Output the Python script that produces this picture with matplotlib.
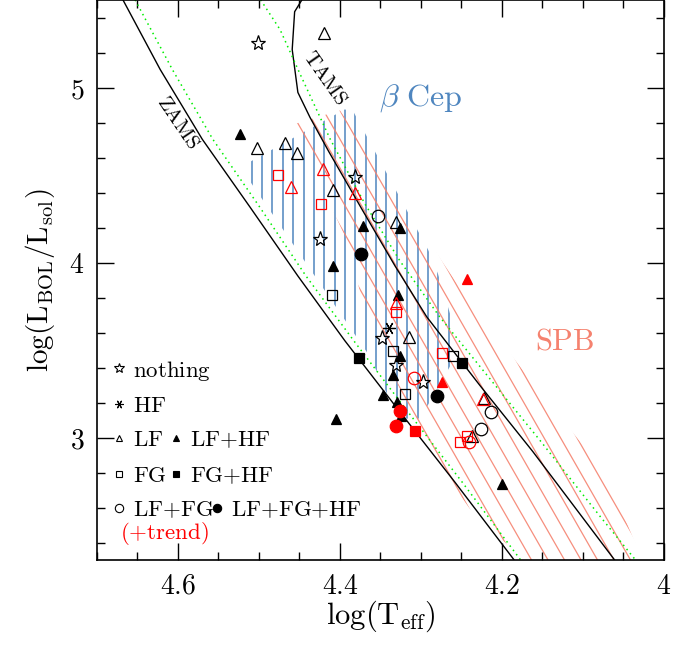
import numpy as np
import matplotlib
matplotlib.use("Agg")

import matplotlib.pyplot as plt
from matplotlib.patches import Polygon
from matplotlib.collections import LineCollection
from matplotlib.ticker import MultipleLocator, FuncFormatter

plt.rcParams['mathtext.fontset'] = 'cm'
plt.rcParams['font.family'] = ['DejaVu Serif']

# --- model lines (log Teff, log L) ---
zams_T = [4.668, 4.622, 4.570, 4.511, 4.452, 4.394, 4.332, 4.258, 4.182]
zams_L = [5.501, 5.103, 4.704, 4.316, 3.923, 3.553, 3.182, 2.744, 2.282]

zams_green_T = [4.653, 4.607, 4.557, 4.499, 4.442, 4.383, 4.322, 4.249, 4.174]
zams_green_L = [5.501, 5.103, 4.704, 4.316, 3.923, 3.553, 3.182, 2.744, 2.282]

tams_T = [4.447, 4.456, 4.459, 4.452, 4.437, 4.414, 4.373, 4.332, 4.293, 4.227, 4.162, 4.058]
tams_L = [5.501, 5.433, 5.217, 4.972, 4.829, 4.635, 4.305, 3.980, 3.690, 3.296, 2.920, 2.282]

tams_green_T = [4.498, 4.474, 4.449, 4.412, 4.369, 4.326, 4.277, 4.215, 4.153, 4.079, 4.027]
tams_green_L = [5.501, 5.331, 5.074, 4.704, 4.333, 4.009, 3.690, 3.336, 2.983, 2.550, 2.254]

# --- instability regions (polygon corners) ---
bcep_T = [4.512, 4.394, 4.383, 4.291, 4.279, 4.263, 4.263, 4.301, 4.328, 4.363, 4.512]
bcep_L = [4.573, 4.875, 4.858, 4.071, 3.935, 3.690, 3.416, 3.108, 3.108, 3.462, 4.470]

spb_T = [4.458, 4.400, 4.252, 4.172, 4.091, 4.052, 4.020, 4.157, 4.240, 4.289, 4.332, 4.375, 4.390]
spb_L = [4.789, 4.869, 3.855, 3.370, 2.903, 2.578, 2.225, 2.225, 2.595, 2.909, 3.336, 3.826, 4.111]

# --- stars, by detected variability ---
nothing_T = [4.501, 4.425, 4.381, 4.348, 4.331, 4.298]
nothing_L = [5.256, 4.134, 4.487, 3.570, 3.416, 3.319]

hf_T = [4.339]
hf_L = [3.627]

lf_T = [4.420, 4.502, 4.468, 4.453, 4.409, 4.331, 4.315, 4.222, 4.237]
lf_L = [5.313, 4.652, 4.681, 4.624, 4.413, 4.231, 3.575, 3.228, 3.006]
lf_trend_T = [4.421, 4.460, 4.381, 4.331, 4.223]
lf_trend_L = [4.533, 4.430, 4.396, 3.769, 3.222]

lfhf_T = [4.523, 4.372, 4.326, 4.409, 4.328, 4.326, 4.335, 4.347, 4.330, 4.325, 4.405, 4.200]
lfhf_L = [4.732, 4.208, 4.197, 3.980, 3.815, 3.467, 3.359, 3.245, 3.205, 3.125, 3.108, 2.732]
lfhf_trend_T = [4.243, 4.274]
lfhf_trend_L = [3.906, 3.319]

fg_T = [4.410, 4.335, 4.320, 4.260]
fg_L = [3.815, 3.496, 3.251, 3.467]
fg_trend_T = [4.477, 4.423, 4.331, 4.274, 4.243, 4.252]
fg_trend_L = [4.499, 4.333, 3.718, 3.484, 3.006, 2.977]

fghf_T = [4.377, 4.249]
fghf_L = [3.456, 3.427]
fghf_trend_T = [4.307]
fghf_trend_L = [3.040]

lffg_T = [4.353, 4.214, 4.226]
lffg_L = [4.265, 3.148, 3.046]
lffg_trend_T = [4.309, 4.241]
lffg_trend_L = [3.342, 2.977]

lffghf_T = [4.374, 4.280]
lffghf_L = [4.048, 3.239]
lffghf_trend_T = [4.326, 4.331]
lffghf_trend_L = [3.154, 3.068]

BLUE = "#4f86bf"
SALMON = "#f5826f"


def hatch_region(ax, poly_T, poly_L, segs, color, lw, alpha):
    """Draw line segments clipped to a polygon in data space."""
    patch = Polygon(np.column_stack([poly_T, poly_L]), closed=True,
                    transform=ax.transData, fill=False, edgecolor="none")
    lc = LineCollection(segs, colors=color, linewidths=lw, alpha=alpha, zorder=1)
    ax.add_collection(lc)
    lc.set_clip_path(patch)


fig = plt.figure(figsize=(6.86, 6.48), dpi=100)
ax = fig.add_axes([0.1414, 0.1358, 0.8265, 0.8642])

ax.set_xlim(4.7, 4.0)
ax.set_ylim(2.3, 5.5)

# beta Cep: vertical hatching
xs = np.arange(4.509, 4.25, -0.0128)
hatch_region(ax, bcep_T, bcep_L, [[(x, 2.0), (x, 5.8)] for x in xs], BLUE, 1.3, 0.85)

# SPB: slanted hatching
slope, lref = 8.08, 4.869
tcs = 4.40 + 0.02037 * np.arange(-25, 25)
segs = [[(t + (2.0 - lref) / slope, 2.0), (t + (5.8 - lref) / slope, 5.8)] for t in tcs]
hatch_region(ax, spb_T, spb_L, segs, SALMON, 0.9, 0.9)

ax.plot(zams_T, zams_L, color="black", lw=1.0, zorder=2)
ax.plot(tams_T, tams_L, color="black", lw=1.0, zorder=2)
ax.plot(zams_green_T, zams_green_L, color="#00ee00", lw=1.1, ls=(0, (1, 2.5)), zorder=2)
ax.plot(tams_green_T, tams_green_L, color="#00ee00", lw=1.1, ls=(0, (1, 2.5)), zorder=2)

ax.text(4.600, 4.80, r"$\mathrm{ZAMS}$", rotation=-56, fontsize=15,
        ha="center", va="center")
ax.text(4.4185, 5.055, r"$\mathrm{TAMS}$", rotation=-55, fontsize=15,
        ha="center", va="center")
ax.text(4.30, 4.94, r"$\beta\ \mathrm{Cep}$", color=BLUE, fontsize=23,
        ha="center", va="center")
ax.text(4.122, 3.55, r"$\mathrm{SPB}$", color=SALMON, fontsize=22,
        ha="center", va="center")

ew = 0.9
def pts(T, L, marker, ms, color, filled):
    ax.plot(T, L, ls="none", marker=marker, ms=ms, mec=color, mew=ew,
            mfc=color if filled else "none", zorder=3)

STAR6 = (6, 2, 30)
pts(nothing_T, nothing_L, "*", 11, "black", False)
pts(hf_T, hf_L, STAR6, 9, "black", False)
pts(lf_T, lf_L, "^", 8, "black", False)
pts(lfhf_T, lfhf_L, "^", 7.5, "black", True)
pts(fg_T, fg_L, "s", 7, "black", False)
pts(fghf_T, fghf_L, "s", 7, "black", True)
pts(lffg_T, lffg_L, "o", 9, "black", False)
pts(lffghf_T, lffghf_L, "o", 9, "black", True)
pts(lf_trend_T, lf_trend_L, "^", 8, "red", False)
pts(lfhf_trend_T, lfhf_trend_L, "^", 7.5, "red", True)
pts(fg_trend_T, fg_trend_L, "s", 7, "red", False)
pts(fghf_trend_T, fghf_trend_L, "s", 7, "red", True)
pts(lffg_trend_T, lffg_trend_L, "o", 9, "red", False)
pts(lffghf_trend_T, lffghf_trend_L, "o", 9, "red", True)

# legend drawn by hand
P = r"{+}"
tr = ax.transAxes
leg = [
    (0.0388, 0.3429, "*", 7, False, r"$\mathrm{nothing}$"),
    (0.0388, 0.2786, STAR6, 6, False, r"$\mathrm{HF}$"),
    (0.0388, 0.2179, "^", 5, False, r"$\mathrm{LF}$"),
    (0.0388, 0.1536, "s", 5, False, r"$\mathrm{FG}$"),
    (0.0388, 0.0929, "o", 6, False, r"$\mathrm{LF}" + P + r"\mathrm{FG}$"),
    (0.1393, 0.2179, "^", 5, True, r"$\mathrm{LF}" + P + r"\mathrm{HF}$"),
    (0.1393, 0.1536, "s", 5, True, r"$\mathrm{FG}" + P + r"\mathrm{HF}$"),
    (0.2116, 0.0929, "o", 6, True,
     r"$\mathrm{LF}" + P + r"\mathrm{FG}" + P + r"\mathrm{HF}$"),
]
for x, y, m, ms, filled, label in leg:
    ax.plot([x], [y], transform=tr, ls="none", marker=m, ms=ms, mec="black",
            mew=0.8, mfc="black" if filled else "none", clip_on=False)
    ax.text(x + 0.024, y, label, transform=tr, fontsize=16.5, va="center_baseline")
ax.text(0.040, 0.054, r"$\mathrm{(}" + P + r"\mathrm{trend)}$", transform=tr,
        fontsize=16.5, color="red", va="center_baseline")

ax.xaxis.set_major_locator(MultipleLocator(0.2))
ax.xaxis.set_minor_locator(MultipleLocator(0.05))
ax.yaxis.set_major_locator(MultipleLocator(1))
ax.yaxis.set_minor_locator(MultipleLocator(0.2))
ax.xaxis.set_major_formatter(FuncFormatter(lambda v, p: r"$%g$" % round(v, 2)))
ax.yaxis.set_major_formatter(FuncFormatter(lambda v, p: r"$%g$" % round(v, 2)))
ax.tick_params(which="both", direction="in", top=True, right=True, width=1.0)
ax.tick_params(which="major", length=12, labelsize=20, pad=9)
ax.tick_params(which="minor", length=6)
for s in ax.spines.values():
    s.set_linewidth(1.2)

ax.set_xlabel(r"$\mathrm{log(T_{eff})}$", fontsize=22, labelpad=-1)
ax.set_ylabel(r"$\mathrm{log(L_{BOL}/L_{sol})}$", fontsize=21, labelpad=9)

fig.savefig("out.png", dpi=100)
